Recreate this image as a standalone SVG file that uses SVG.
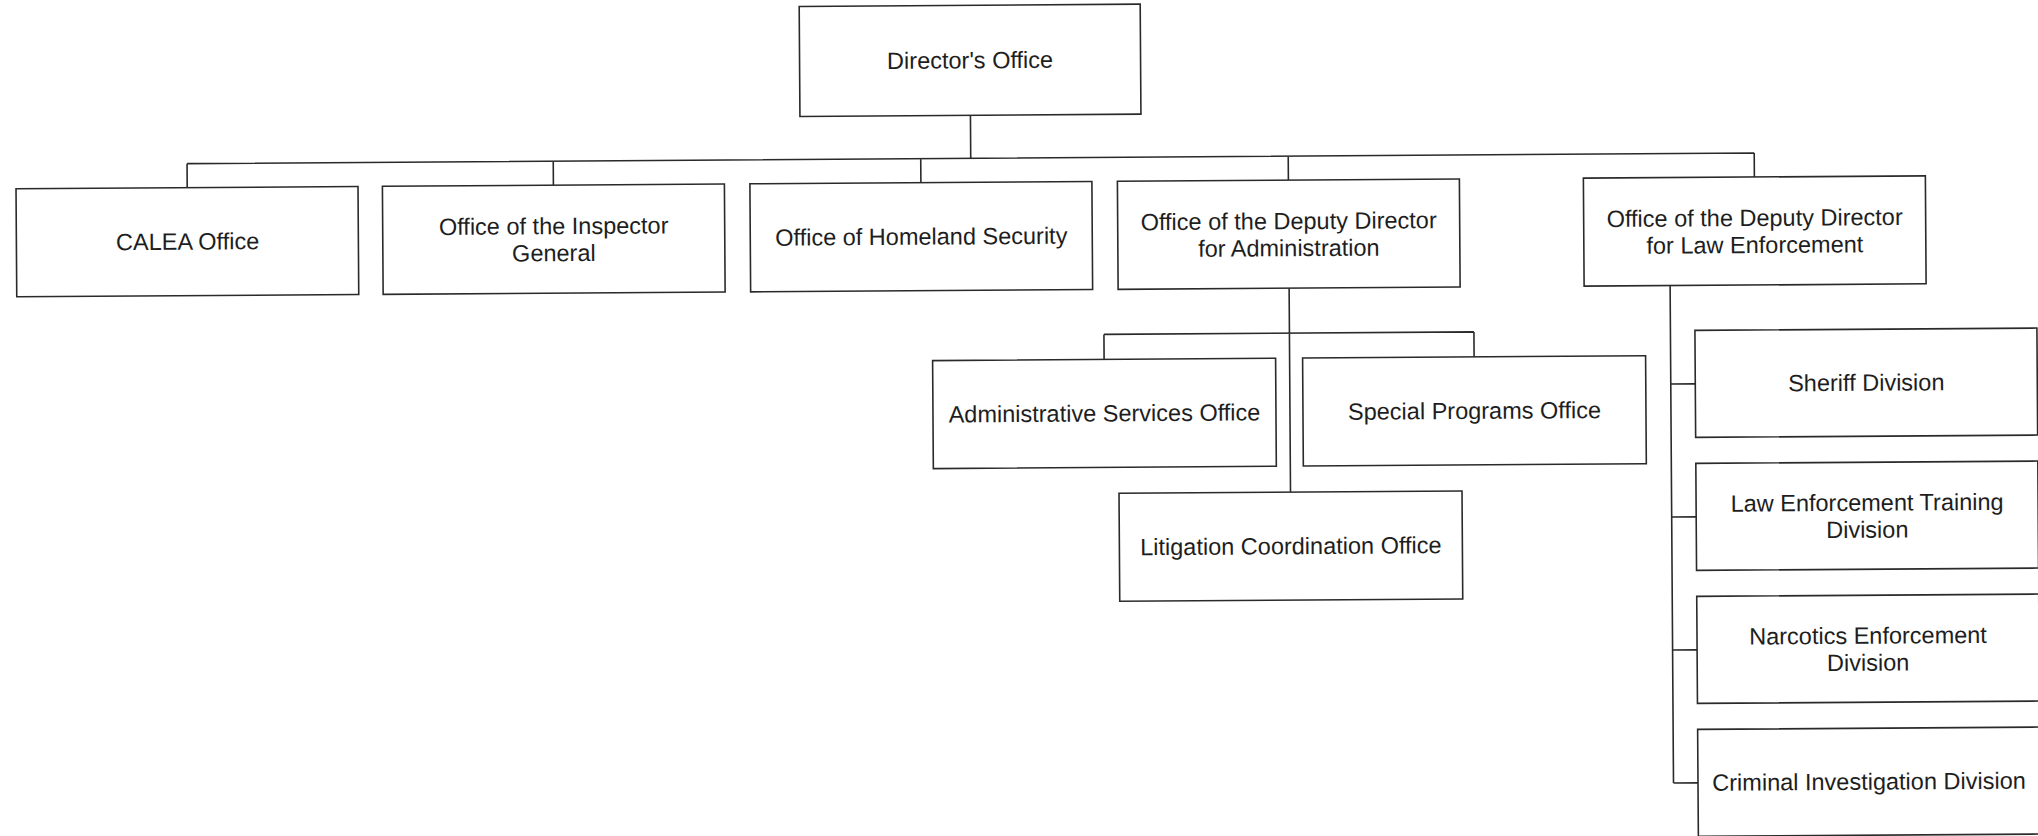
<svg xmlns="http://www.w3.org/2000/svg" width="2038" height="836" viewBox="0 0 2038 836">
<style>
.box{fill:#fff;stroke:#2a2a2a;stroke-width:1.6}
.ln{fill:none;stroke:#2a2a2a;stroke-width:1.6}
text{font-family:"Liberation Sans",Arial,sans-serif;font-size:23.5px;fill:#1e1e1e;text-anchor:middle}
</style>
<rect width="2038" height="836" fill="#fff"/>
<g transform="rotate(-0.39 1019 418)">
<g id="connectors">
<path class="ln" d="M972.5 115V158M188.8 158H1756M188.8 158V182M555 158V182M922.5 158V182M1290 158V182M1756 158V182"/>
<path class="ln" d="M1290 290V494M1104.5 335H1474.5M1104.5 335V360M1474.5 335V360"/>
<path class="ln" d="M1671 290V787.5M1671 388.5H1695.5M1671 521.5H1695.5M1671 654.5H1695.5M1671 787.5H1695.5"/>
</g>
<g id="directors-office"><rect class="box" x="802" y="5" width="341" height="110"/><text x="972.5" y="68">Director's Office</text></g>
<g id="calea-office"><rect class="box" x="17.6" y="182" width="342" height="108"/><text x="188.8" y="244">CALEA Office</text></g>
<g id="inspector-general"><rect class="box" x="384" y="182" width="342" height="108"/><text x="555" y="231">Office of the Inspector</text><text x="555" y="258">General</text></g>
<g id="homeland-security"><rect class="box" x="751.5" y="182" width="342" height="108"/><text x="922.5" y="244">Office of Homeland Security</text></g>
<g id="deputy-admin"><rect class="box" x="1119" y="182" width="342" height="108"/><text x="1290" y="231">Office of the Deputy Director</text><text x="1290" y="258">for Administration</text></g>
<g id="deputy-law"><rect class="box" x="1585" y="182" width="342" height="108"/><text x="1756" y="231">Office of the Deputy Director</text><text x="1756" y="258">for Law Enforcement</text></g>
<g id="admin-services"><rect class="box" x="933" y="360" width="343" height="108"/><text x="1104.5" y="422">Administrative Services Office</text></g>
<g id="special-programs"><rect class="box" x="1303" y="360" width="343" height="108"/><text x="1474.5" y="422">Special Programs Office</text></g>
<g id="litigation"><rect class="box" x="1118.5" y="494" width="343" height="108"/><text x="1290" y="556">Litigation Coordination Office</text></g>
<g id="sheriff"><rect class="box" x="1695.5" y="335" width="342" height="107"/><text x="1866.5" y="396.5">Sheriff Division</text></g>
<g id="le-training"><rect class="box" x="1695.5" y="468" width="342" height="107"/><text x="1866.5" y="516.5">Law Enforcement Training</text><text x="1866.5" y="543.5">Division</text></g>
<g id="narcotics"><rect class="box" x="1695.5" y="601" width="342" height="107"/><text x="1866.5" y="649.5">Narcotics Enforcement</text><text x="1866.5" y="676.5">Division</text></g>
<g id="criminal-investigation"><rect class="box" x="1695.5" y="734" width="342" height="107"/><text x="1866.5" y="795.5">Criminal Investigation Division</text></g>
</g>
</svg>
